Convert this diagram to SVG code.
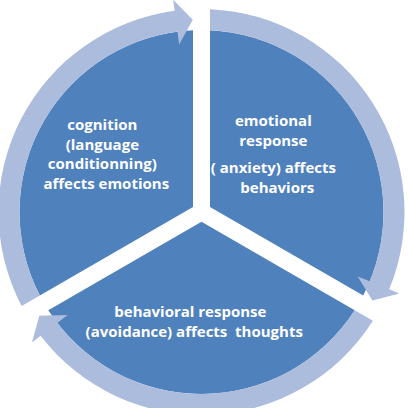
<svg xmlns="http://www.w3.org/2000/svg" width="408" height="408" viewBox="0 0 408 408">
  <style>
    .sector { fill: #4F81BD; }
    .arrow { fill: #ABBCDC; }
    .label { fill: #FFFFFF; font-family: "Open Sans", "Liberation Sans", sans-serif; font-weight: bold; font-size: 15px; text-anchor: middle; white-space: pre; }
  </style>
  <rect width="408" height="408" fill="#FFFFFF"/>
  <g id="node-cognition">
    <path class="sector" d="M193 207.09 L39.81 295.54 A182 182 0 0 1 193 30.2 Z"/>
    <text class="label">
      <tspan x="116" y="130">cognition</tspan>
      <tspan x="116" y="149.5">(language</tspan>
      <tspan x="116" y="169">conditionning)</tspan>
      <tspan x="116" y="188.5">affects emotions</tspan>
    </text>
  </g>
  <g id="node-emotional">
    <path class="sector" d="M210 207.09 L210 30.2 A182 182 0 0 1 363.19 295.54 Z"/>
    <text class="label">
      <tspan x="287" y="126">emotional</tspan>
      <tspan x="287" y="145.5">response</tspan>
      <tspan x="287" y="173">( anxiety) affects</tspan>
      <tspan x="287" y="192.5">behaviors</tspan>
    </text>
  </g>
  <g id="node-behavioral">
    <path class="sector" d="M201.5 221.82 L354.69 310.26 A182 182 0 0 1 48.31 310.26 Z"/>
    <text class="label">
      <tspan x="204" y="317">behavioral response</tspan>
      <tspan x="204" y="337">(avoidance) affects  thoughts</tspan>
    </text>
  </g>
  <g id="connectors">
    <path class="arrow" d="M39.81 295.54 L21.61 306.05 A203 203 0 0 1 174.65 10.78 L173.2 -0.12 L192.77 19.7 L179.15 44.48 L177.43 31.6 A182 182 0 0 0 39.81 295.54 Z"/>
    <path class="arrow" d="M210 30.21 L210 9.19 A203 203 0 0 1 389.19 289.36 L399.35 293.55 L372.4 300.59 L357.75 276.4 L369.77 281.35 A182 182 0 0 0 210 30.21 Z"/>
    <path class="arrow" d="M354.69 310.25 L372.89 320.76 A203 203 0 0 1 40.66 335.86 L31.95 342.57 L39.33 315.71 L67.6 315.12 L57.31 323.05 A182 182 0 0 0 354.69 310.25 Z"/>
  </g>
</svg>
